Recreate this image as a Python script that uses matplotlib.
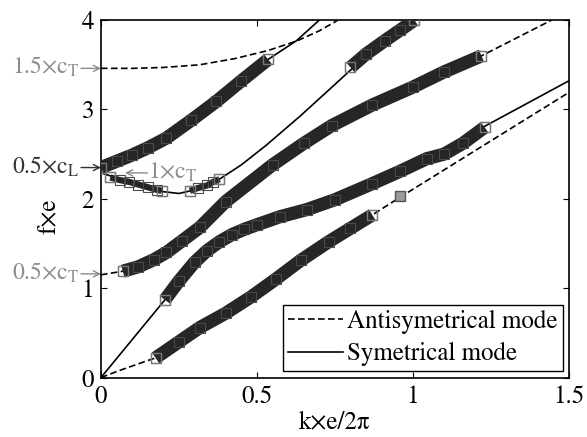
import matplotlib
matplotlib.use("Agg")
import matplotlib.pyplot as plt

plt.rcParams['font.family'] = ['STIXGeneral', 'DejaVu Serif']
plt.rcParams['mathtext.fontset'] = 'stix'

# theoretical dispersion curves (k*e/2pi, f*e)
a0_k = [0, 0.06, 0.125, 0.175, 0.25, 0.317, 0.40, 0.48, 0.56, 0.64, 0.73, 0.80, 0.87, 0.96, 1.2, 1.5]
a0_f = [0, 0.08, 0.16, 0.22, 0.40, 0.56, 0.72, 0.90, 1.10, 1.31, 1.52, 1.67, 1.82, 2.02, 2.54, 3.19]
s0_k = [0, 0.205, 0.25, 0.30, 0.34, 0.38, 0.42, 0.46, 0.5, 0.574, 0.66, 0.75, 0.87, 1.04, 1.24, 1.5]
s0_f = [0, 0.87, 1.08, 1.29, 1.42, 1.52, 1.60, 1.66, 1.71, 1.80, 1.88, 1.99, 2.17, 2.45, 2.83, 3.32]
a1_k = [0, 0.07, 0.12, 0.17, 0.21, 0.26, 0.317, 0.40, 0.55, 0.65, 0.74, 0.87, 1.0, 1.1, 1.22, 1.445]
a1_f = [1.15, 1.19, 1.24, 1.32, 1.40, 1.53, 1.68, 1.97, 2.38, 2.62, 2.82, 3.05, 3.25, 3.42, 3.60, 4.0]
s1_k = [0, 0.1, 0.2, 0.25, 0.3, 0.38, 0.45, 0.53, 0.64, 0.75, 0.80, 0.91, 1.005]
s1_f = [2.29, 2.18, 2.08, 2.06, 2.10, 2.22, 2.38, 2.60, 2.93, 3.28, 3.44, 3.74, 4.0]
s2_k = [0, 0.05, 0.1, 0.15, 0.21, 0.29, 0.37, 0.45, 0.536, 0.627, 0.70]
s2_f = [2.35, 2.42, 2.49, 2.57, 2.68, 2.88, 3.09, 3.32, 3.56, 3.77, 4.0]
a2_k = [0, 0.1, 0.2, 0.317, 0.43, 0.536, 0.627, 0.70, 0.76]
a2_f = [3.46, 3.46, 3.47, 3.50, 3.57, 3.66, 3.765, 3.88, 4.0]

# measured points
a0_exp_k = [0.175, 0.25, 0.317, 0.40, 0.48, 0.56, 0.64, 0.73, 0.80, 0.87]
a0_exp_f = [0.22, 0.40, 0.56, 0.72, 0.90, 1.10, 1.31, 1.52, 1.67, 1.82]
a0_extra_k = [0.96]
a0_extra_f = [2.03]
s0_exp_k = [0.205, 0.25, 0.30, 0.34, 0.38, 0.42, 0.46, 0.5, 0.574, 0.66, 0.75, 0.87, 0.96, 1.045, 1.10, 1.16, 1.23]
s0_exp_f = [0.87, 1.08, 1.29, 1.42, 1.52, 1.60, 1.66, 1.71, 1.80, 1.88, 1.99, 2.17, 2.31, 2.45, 2.50, 2.62, 2.80]
a1_exp_k = [0.07, 0.12, 0.17, 0.21, 0.26, 0.317, 0.40, 0.55, 0.65, 0.74, 0.87, 1.0, 1.1, 1.22]
a1_exp_f = [1.19, 1.24, 1.32, 1.40, 1.53, 1.68, 1.97, 2.38, 2.62, 2.82, 3.05, 3.25, 3.42, 3.60]
s2_exp_k = [0, 0.05, 0.1, 0.15, 0.21, 0.29, 0.37, 0.45, 0.536]
s2_exp_f = [2.35, 2.42, 2.49, 2.57, 2.68, 2.88, 3.09, 3.32, 3.56]
s1a_exp_k = [0.03, 0.06, 0.09, 0.12, 0.15, 0.18, 0.195]
s1a_exp_f = [2.24, 2.21, 2.19, 2.16, 2.13, 2.10, 2.09]
s1b_exp_k = [0.285, 0.31, 0.34, 0.36, 0.38]
s1b_exp_f = [2.09, 2.12, 2.15, 2.19, 2.22]
s1c_exp_k = [0.80, 0.85, 0.91, 0.96, 1.005]
s1c_exp_f = [3.47, 3.62, 3.77, 3.89, 4.0]

# cut-off markers: text, level, colour
cutoff_text = ['1.5×c$_\\mathrm{T}$', '0.5×c$_\\mathrm{L}$', '0.5×c$_\\mathrm{T}$']
cutoff_f = [3.46, 2.35, 1.16]
cutoff_color = ['#8c8c8c', '#333333', '#8c8c8c']

x_ticks = [0, 0.5, 1, 1.5]
x_tick_labels = ['0', '0.5', '1', '1.5']
y_ticks = [0, 1, 2, 3, 4]
y_tick_labels = ['0', '1', '2', '3', '4']

fig = plt.figure(figsize=(5.87, 4.37), dpi=100)
ax = fig.add_axes([0.172, 0.136, 0.797, 0.818])

dash = (4, 2)
ax.plot(a0_k, a0_f, color='k', lw=1.2, dashes=dash, zorder=2, label='Antisymetrical mode')
ax.plot(s0_k, s0_f, color='k', lw=1.2, zorder=2, label='Symetrical mode')
ax.plot(a1_k, a1_f, color='k', lw=1.2, dashes=dash, zorder=2)
ax.plot(a2_k, a2_f, color='k', lw=1.2, dashes=dash, zorder=2)
ax.plot(s1_k, s1_f, color='k', lw=1.2, zorder=2)
ax.plot(s2_k, s2_f, color='k', lw=1.2, zorder=2)


def band(k, f, lw=9.5):
    ax.plot(k, f, color='#262626', lw=lw, solid_capstyle='butt',
            solid_joinstyle='round', zorder=3)
    ax.plot(k, f, ls='none', marker='s', ms=6.5, mfc='none', mec='#4a4a4a', mew=0.8, zorder=4)
    ax.plot([k[0], k[-1]], [f[0], f[-1]], ls='none', marker='s', ms=7, mfc='none',
            mec='#777777', mew=1.0, zorder=4)


band(a0_exp_k, a0_exp_f)
band(s0_exp_k, s0_exp_f)
band(a1_exp_k, a1_exp_f)
band(s2_exp_k, s2_exp_f)
band(s1c_exp_k, s1c_exp_f)
band(s1a_exp_k, s1a_exp_f, lw=4.5)
band(s1b_exp_k, s1b_exp_f, lw=4.5)
ax.plot(a0_extra_k, a0_extra_f, ls='none', marker='s', ms=7, mfc='#9a9a9a', mec='#555555', mew=1.0, zorder=4)

ax.set_xlim(0, 1.5)
ax.set_ylim(0, 4)
ax.set_xticks(x_ticks)
ax.set_xticklabels(x_tick_labels)
ax.set_yticks(y_ticks)
ax.set_yticklabels(y_tick_labels)
ax.tick_params(direction='in', top=True, right=True, length=4, labelsize=18, pad=5)
for s in ax.spines.values():
    s.set_linewidth(1.2)

ax.set_xlabel('k×e/2π', fontsize=18, labelpad=1)
ax.set_ylabel('f×e', fontsize=18)
ax.yaxis.set_label_coords(-0.085, 0.45)

# cut-off frequency labels with arrows pointing at the axis
arrow_len = 0.064
for txt, fc, col in zip(cutoff_text, cutoff_f, cutoff_color):
    ax.annotate('', xy=(0, fc), xytext=(-arrow_len, fc), annotation_clip=False,
                arrowprops=dict(arrowstyle='->', color=col, lw=1.0,
                                shrinkA=0, shrinkB=0, mutation_scale=11))
    ax.text(-arrow_len - 0.004, fc - 0.065, txt, color=col, fontsize=17,
            ha='right', va='baseline', clip_on=False)

ax.annotate('', xy=(0.077, 2.29), xytext=(0.077 + 0.072, 2.29),
            arrowprops=dict(arrowstyle='->', color='#8c8c8c', lw=1.0,
                            shrinkA=0, shrinkB=0, mutation_scale=11), zorder=5)
ax.text(0.077 + 0.075, 2.29 - 0.065, '1×c$_\\mathrm{T}$', color='#8c8c8c', fontsize=17,
        ha='left', va='baseline', zorder=5)

leg = ax.legend(loc='lower right', fontsize=18, fancybox=False, framealpha=1,
                edgecolor='k', handlelength=2.2, handletextpad=0.15,
                labelspacing=0.35, borderpad=0.2, borderaxespad=0.25)
leg.get_frame().set_linewidth(1.0)

fig.savefig('out.png', dpi=100)
